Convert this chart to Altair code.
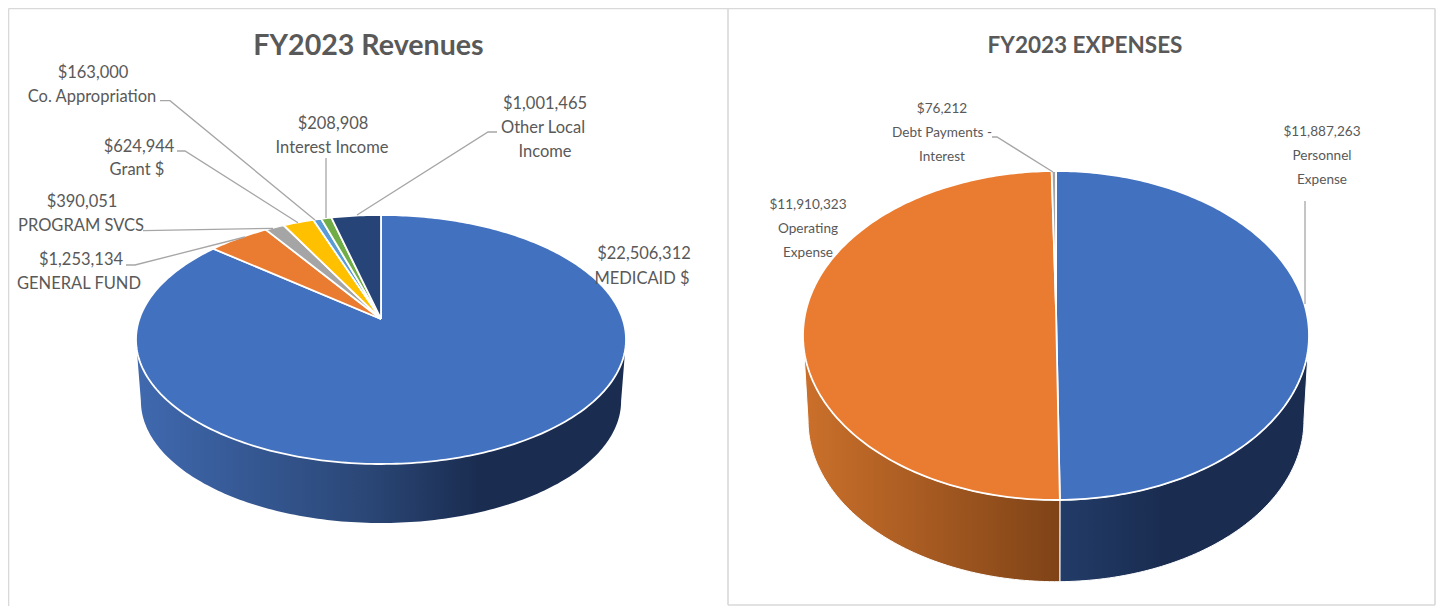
import math
import altair as alt
import pandas as pd

# ---- chart values ----
rev_names = ["MEDICAID $", "GENERAL FUND", "PROGRAM SVCS", "Grant $", "Co. Appropriation", "Interest Income", "Other Local Income"]
rev_values = [22506312, 1253134, 390051, 624944, 163000, 208908, 1001465]
exp_names = ["Personnel Expense", "Operating Expense", "Debt Payments - Interest"]
exp_values = [11887263, 11910323, 76212]
rev_colors = ["#4271C0", "#EA7C31", "#A5A5A5", "#FFC000", "#5B9BD5", "#70AD47", "#264478"]
exp_colors = ["#4271C0", "#EA7C31", "#A5A5A5"]
titles = ["FY2023 Revenues", "FY2023 EXPENSES"]

# ---- layout ----
W, H = 1428, 598
TXT = "#595959"
LINE = "#A6A6A6"
FRAME = "#D9D9D9"
LEFT = dict(cx=381, top=215, bot=464, halfw=245, k=0.165, depth=61.5, shrink=0.98)
RIGHT = dict(cx=1056, top=171, bot=500, halfw=253, k=0.16, depth=85, shrink=0.98)


def geom(p):
    k = p["k"]
    b = (p["bot"] - p["top"]) * (1 - k * k) / 2
    y0 = p["top"] + b / (1 + k)
    a = p["halfw"] * math.sqrt(1 - k * k)
    return a, b, y0


def rim(p, deg, lower=False):
    a, b, y0 = geom(p)
    t = math.radians(deg)
    w = 1 + p["k"] * math.cos(t)
    x, y = a * math.sin(t) / w, b * math.cos(t) / w
    if lower:
        midy = y0 + b * p["k"] / (1 - p["k"] ** 2)
        dy = y0 - y - midy
        return p["cx"] + x * p["shrink"], midy + p["depth"] + dy * p["shrink"]
    return p["cx"] + x, y0 - y


def sweep(a0, a1):
    n = max(2, int(abs(a1 - a0)) + 2)
    return [a0 + (a1 - a0) * i / (n - 1) for i in range(n)]


x_s = alt.Scale(domain=[8, 8 + W], nice=False, zero=False)
y_s = alt.Scale(domain=[8, 8 + H], reverse=True, nice=False, zero=False)


def poly(pts, **mark):
    d = pd.DataFrame({"x": [q[0] for q in pts], "y": [q[1] for q in pts], "i": range(len(pts))})
    return alt.Chart(d).mark_line(**mark).encode(
        x=alt.X("x:Q", scale=x_s, axis=None),
        y=alt.Y("y:Q", scale=y_s, axis=None),
        order="i:Q",
    )


def grad(stops):
    return alt.Gradient(gradient="linear", x1=0, x2=1, y1=0, y2=0,
                        stops=[alt.GradientStop(offset=o, color=c) for o, c in stops])


def side(p, a0, a1, stops, **kw):
    pts = [rim(p, a, True) for a in sweep(a0, a1)] + [rim(p, a) for a in sweep(a1, a0)]
    pts.append(pts[0])
    return poly(pts, fill=grad(stops), **kw)


def slices(p, values, colors):
    a, b, y0 = geom(p)
    total = sum(values)
    out, start = [], 0.0
    for v, c in zip(values, colors):
        end = start + 360 * v / total
        pts = [(p["cx"], y0)] + [rim(p, t) for t in sweep(start, end)] + [(p["cx"], y0)]
        out.append(poly(pts, fill=c, stroke="white", strokeWidth=1.8))
        start = end
    return out


def edge(p):
    ang = math.degrees(math.acos(-p["k"]))
    return ang, 360 - ang


layers = []

# frame
for pts in [
    [(8.5, 8.5), (1435, 8.5)],
    [(8.5, 8.5), (8.5, 606)],
    [(728, 8.5), (728, 605)],
    [(1435, 8.5), (1435, 605)],
    [(728, 605), (1435, 605)],
]:
    layers.append(poly(pts, stroke=FRAME, strokeWidth=1.6))

# left pie
a_r, a_l = edge(LEFT)
layers.append(side(LEFT, a_r, a_l,
                   [(0, "#4069AF"), (0.48, "#2A4675"), (0.70, "#1A2C50"), (1, "#1A2C50")],
                   stroke="white", strokeWidth=0))
layers += slices(LEFT, rev_values, rev_colors)

# right pie
a_r, a_l = edge(RIGHT)
split = 360 * exp_values[0] / sum(exp_values)
layers.append(side(RIGHT, a_r, split,
                   [(0, "#223C68"), (0.42, "#1A2C50"), (1, "#1A2C50")],
                   stroke="white", strokeWidth=1))
layers.append(side(RIGHT, split, a_l,
                   [(0, "#CB702B"), (1, "#7F4317")],
                   stroke="white", strokeWidth=1))
layers += slices(RIGHT, exp_values, exp_colors)

# leader lines
for pts in [
    [(160, 100.7), (170, 100.7), (315, 220)],
    [(177, 151), (185, 151), (298, 222.7)],
    [(143, 230.7), (273, 228.3)],
    [(126, 265), (135, 265), (245, 237)],
    [(326, 158), (326, 218)],
    [(497, 132), (488, 132), (357, 215)],
    [(992, 137), (997, 137), (1053, 172)],
    [(1305, 201), (1305, 304)],
]:
    layers.append(poly(pts, stroke=LINE, strokeWidth=1.3))


def money(v):
    return f"${v:,}"


left_lab = [
    (93, 73, money(rev_values[4])), (92, 97, rev_names[4]),
    (333, 124, money(rev_values[5])), (332, 148, rev_names[5]),
    (139, 147, money(rev_values[3])), (137, 170, rev_names[3]),
    (82, 202, money(rev_values[2])), (81, 226, rev_names[2]),
    (81, 260, money(rev_values[1])), (79, 284, rev_names[1]),
    (545, 104, money(rev_values[6])), (543, 128, "Other Local"), (545, 152, "Income"),
    (644, 254, money(rev_values[0])), (642, 279, rev_names[0]),
]
right_lab = [
    (1322, 132, money(exp_values[0])), (1322, 156, "Personnel"), (1322, 180, "Expense"),
    (808, 205, money(exp_values[1])), (808, 229, "Operating"), (808, 253, "Expense"),
    (942, 109, money(exp_values[2])), (942, 133, "Debt Payments -"), (942, 157, "Interest"),
]


def texts(rows, **mark):
    d = pd.DataFrame(rows, columns=["x", "y", "t"])
    return alt.Chart(d).mark_text(align="center", baseline="middle", **mark).encode(
        x=alt.X("x:Q", scale=x_s, axis=None),
        y=alt.Y("y:Q", scale=y_s, axis=None),
        text="t:N",
    )


layers.append(texts(left_lab, font="Lato", fontSize=16.5, color=TXT))
layers.append(texts(right_lab, font="Lato", fontSize=13.6, color=TXT))
layers.append(texts([(368.5, 46, titles[0])], font="Lato", fontSize=28.6, fontWeight="bold", color=TXT))
layers.append(texts([(1085, 46, titles[1])], font="Lato", fontSize=22.5, fontWeight="bold", color=TXT))

chart = alt.layer(*layers).properties(
    width=W, height=H, padding=0, background="white",
    autosize=alt.AutoSizeParams(type="none"),
).configure_view(stroke=None)

chart.save("out.html", embed_options={"renderer": "svg", "actions": False})
